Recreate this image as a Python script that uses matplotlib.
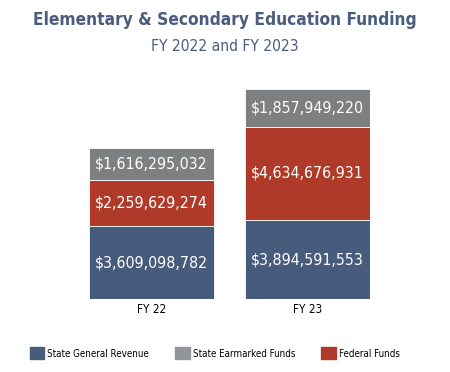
import matplotlib.pyplot as plt
from matplotlib.patches import Patch

years = ['FY 22', 'FY 23']
general_revenue = [3609098782, 3894591553]
federal_funds = [2259629274, 4634676931]
earmarked_funds = [1616295032, 1857949220]

blue = '#475b7c'
red = '#b03a29'
gray = '#7e7f80'
font = 'DejaVu Sans'
narrow = 'condensed'

fig = plt.figure(figsize=(4.5, 3.72), dpi=100)
ax = fig.add_axes([89 / 450, 73 / 372, 281 / 450, 210 / 372])

x = range(len(years))
bottom2 = [a + b for a, b in zip(general_revenue, federal_funds)]
b1 = ax.bar(x, general_revenue, width=0.8, color=blue, edgecolor='white', linewidth=0.6)
b2 = ax.bar(x, federal_funds, width=0.8, bottom=general_revenue, color=red, edgecolor='white', linewidth=0.6)
b3 = ax.bar(x, earmarked_funds, width=0.8, bottom=bottom2, color=gray, edgecolor='white', linewidth=0.6)

for bars, vals in [(b1, general_revenue), (b2, federal_funds), (b3, earmarked_funds)]:
    for rect, v in zip(bars, vals):
        ax.text(rect.get_x() + rect.get_width() / 2, rect.get_y() + rect.get_height() / 2,
                '${:,}'.format(v), ha='center', va='center', color='white',
                fontsize=11.4, family=font, stretch=narrow)

ax.set_xlim(-0.4, 1.4)
ax.set_ylim(0, bottom2[1] + earmarked_funds[1])
ax.set_xticks(list(x))
ax.set_xticklabels(years, family=font, stretch=narrow, fontsize=8.5)
ax.tick_params(axis='x', length=0, pad=3)
ax.set_yticks([])
for s in ax.spines.values():
    s.set_visible(False)

fig.text(0.5, 0.945, 'Elementary & Secondary Education Funding', ha='center', va='center',
         fontsize=12.4, fontweight='bold', color='#4a5d7e', family=font, stretch=narrow)
fig.text(0.5, 0.876, 'FY 2022 and FY 2023', ha='center', va='center',
         fontsize=11.2, color='#4a5d7e', family=font, stretch=narrow)

handles = [Patch(color=blue), Patch(color='#939598'), Patch(color=red)]
fig.legend(handles, ['State General Revenue', 'State Earmarked Funds', 'Federal Funds'],
           loc='center', bbox_to_anchor=(0.477, 0.05), ncol=3, frameon=False,
           handlelength=1.5, handleheight=1.5, handletextpad=0.3, columnspacing=2.7,
           prop={'family': font, 'stretch': narrow, 'size': 7})

fig.savefig('out.png', dpi=100)
